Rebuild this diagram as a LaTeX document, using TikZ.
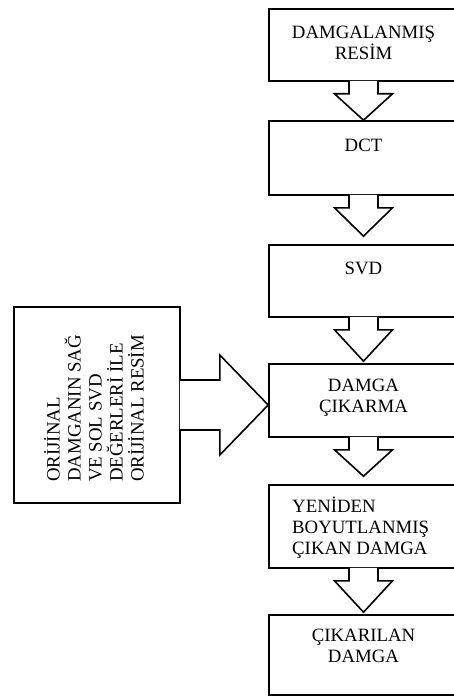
\documentclass[tikz,border=0pt]{standalone}
\usepackage{fontspec}
\setmainfont{Liberation Serif}
\usepackage{tikz}
\usetikzlibrary{calc, positioning}

% block arrow down, from box #1 to box #2, #3 = gap above #2
\newcommand{\blockdown}[3]{%
  \filldraw[blockline] let \p1=(#1.south), \p2=(#2.north) in
    ({\x1-14.5pt},{\y1+1pt}) -- ({\x1-14.5pt},{\y1-12pt}) -- ({\x1-29pt},{\y1-12pt})
    -- (\x1,{\y2+#3}) -- ({\x1+29pt},{\y1-12pt}) -- ({\x1+14.5pt},{\y1-12pt})
    -- ({\x1+14.5pt},{\y1+1pt});
}
% block arrow right, from box #1 to box #2
\newcommand{\blockright}[2]{%
  \filldraw[blockline] let \p1=(#1.east), \p2=(#2.west) in
    ({\x1-1pt},{\y1+25pt}) -- ({\x1+39pt},{\y1+25pt}) -- ({\x1+39pt},{\y1+50pt})
    -- (\x2,\y1) -- ({\x1+39pt},{\y1-50pt}) -- ({\x1+39pt},{\y1-25pt})
    -- ({\x1-1pt},{\y1-25pt});
}

\begin{document}
\begin{tikzpicture}[x=1pt, y=-1pt,
    box/.style={draw, line width=1.6pt, minimum width=189pt, inner sep=0pt},
    blockline/.style={draw=black, fill=white, line width=1.6pt, line join=miter},
    lbl/.style={font=\fontsize{18.8}{21}\selectfont, inner sep=0pt, align=center}]
   \useasboundingbox (0,0) rectangle (453,698);

   % right column
   \node[box, minimum height=72pt] (dr) at (363.5, 45) {};
   \node[box, minimum height=74pt] (dct) at (363.5, 158) {};
   \node[box, minimum height=72pt] (svd) at (363.5, 281) {};
   \node[box, minimum height=73pt] (cik) at (363.5, 400.5) {};
   \node[box, minimum height=83pt] (yen) at (363.5, 526.5) {};
   \node[box, minimum height=80pt] (son) at (363.5, 655) {};

   \node[lbl, anchor=north] (drt) at (363.5, 26) {DAMGALANMIŞ\\RESİM};
   \node[lbl, anchor=north] (dctt) at (363.5, 139) {DCT};
   \node[lbl, anchor=north] (svdt) at (363.5, 262) {SVD};
   \node[lbl, anchor=north] (cikt) at (363.5, 379) {DAMGA\\ÇIKARMA};
   \node[lbl, align=left, anchor=north west] (yent) at (292, 497) {YENİDEN\\BOYUTLANMIŞ\\ÇIKAN DAMGA};
   \node[lbl, anchor=north] (sont) at (363.5, 629) {ÇIKARILAN\\DAMGA};

   % left box
   \node[box, minimum width=166pt, minimum height=196pt] (org) at (97, 405) {};
   \node[lbl, align=left, rotate=90, anchor=north west] (orgt) at (44, 482)
     {ORİJİNAL\\DAMGANIN SAĞ\\VE SOL SVD\\DEĞERLERİ İLE\\ORİJİNAL RESİM};

   % arrows
   \blockdown{dr}{dct}{0pt}
   \blockdown{dct}{svd}{8pt}
   \blockdown{svd}{cik}{2pt}
   \blockdown{cik}{yen}{8pt}
   \blockdown{yen}{son}{2pt}
   \blockright{org}{cik}
  \end{tikzpicture}
\end{document}
